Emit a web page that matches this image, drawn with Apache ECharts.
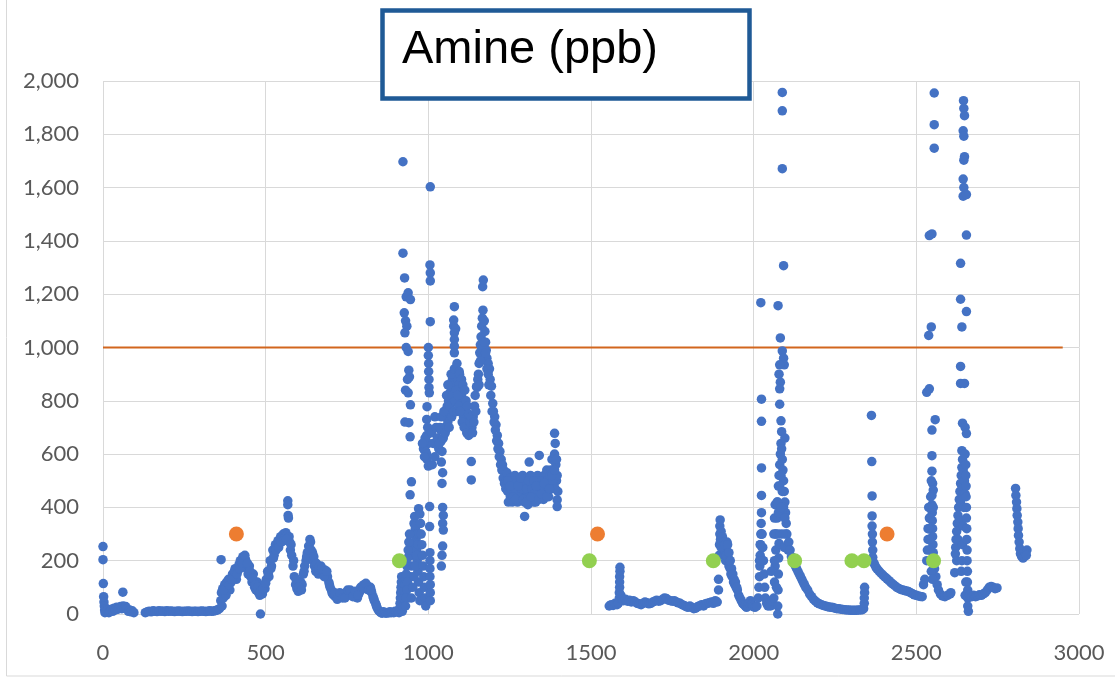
<!DOCTYPE html>
<title>amine</title>
<style>
body {
    margin: 0;
}
#echart {
    height: 678px;
    width: 1115px;
}
</style>
<div id='echart'></div>
<script src='https://cdn.jsdelivr.net/npm/echarts@6.0.0/dist/echarts.min.js'></script>
<script>
let TITLE = 'Amine (ppb)'
let X_TICKS = [0, 500, 1000, 1500, 2000, 2500, 3000]
let Y_TICKS = [0, 200, 400, 600, 800, 1000, 1200, 1400, 1600, 1800, 2000]
// blue readings as [x, ppb]
let amine = [
    [0,253],[0,204],[1,114],[2,65],[3,45],[4,30],[5,15],[6,5],[8,20],[10,8],[14,15],[18,5],[22,12],[26,18],[30,10],[34,22],[38,15],[42,25],[46,18],[50,22],[54,28],[58,20],[61,82],[62,30],[66,22],[70,28],[74,18],[78,10],[82,15],[86,8],[90,12],[95,5],
    [130,5],[136,8],[142,10],[148,8],[154,12],[160,10],[166,9],[172,12],[178,10],[184,11],[190,9],[196,12],[202,10],[208,11],[214,10],[220,9],[226,10],[232,11],[238,10],[244,9],[250,10],[256,10],[262,11],[268,10],[274,9],[280,10],[286,10],[292,9],[298,10],[304,11],[310,10],[316,9],[322,10],[328,12],[334,10],[340,11],[346,13],[352,15],[358,20],
    [362,50],[363,204],[364,80],[366,30],[368,95],[370,60],[374,110],[378,70],[382,100],[386,130],[390,90],[394,120],[398,150],[402,140],[406,170],[410,130],[414,160],[418,185],[422,200],[426,175],[430,215],[434,190],[438,205],[442,170],[446,150],[450,180],[454,140],[458,120],[462,150],[466,100],[470,90],[474,120],[478,80],[482,70],[484,0],[486,90],[490,75],[494,110],[498,95],[502,130],[506,160],[510,140],[514,200],[518,180],[522,240],[526,220],[530,260],[534,250],[538,275],[542,265],[546,290],[550,280],[554,300],[558,285],[562,305],[565,295],[568,425],[568,410],[569,370],[570,360],[572,290],[574,270],[576,240],[580,220],[584,180],[588,140],[592,110],[596,95],[600,85],[604,100],[608,120],[612,110],[616,150],[620,180],[624,200],[628,230],[632,255],[636,280],[638,270],[640,240],[642,210],[644,230],[646,200],[650,180],[654,160],[658,175],[662,150],[666,165],[670,180],[674,160],[678,150],[682,165],[686,150],[690,140],[694,120],[698,100],[702,90],[706,75],[710,70],[714,65],[718,70],[722,60],[726,68],[730,75],[734,70],[738,65],[742,72],[746,80],[750,75],[754,85],[758,80],[762,70],[766,80],[770,75],[774,65],[778,72],[782,60],[786,75],[790,85],[794,95],[798,105],[802,110],[806,100],[810,95],[814,105],[818,90],[822,100],[826,80],[830,65],[834,50],[838,40],[842,25],[846,15],[850,10],[854,5],[858,3],[862,8],[866,5],[870,3],[874,6],[878,4],[882,8],[886,5],[890,7],[894,5],[898,10],[902,8],[906,12],
    [372,90],[380,120],[388,110],[396,130],[404,160],[412,150],[420,170],[428,190],[436,220],[444,190],[452,160],[460,135],[468,110],[476,100],[484,85],[492,95],[500,115],[508,150],[516,170],[524,210],[532,240],[540,250],[548,270],[556,275],[564,280],[578,260],[586,200],[594,130],[602,100],[610,90],[618,160],[626,215],[634,240],[648,215],[656,190],[664,175],[672,170],[680,140],[688,160],[696,110],[704,80],[712,80],[720,55],[728,80],[736,60],[744,60],[752,90],[760,90],[768,65],[776,85],[784,70],[792,100],[800,95],[808,115],[816,90],[824,90],[832,58],[840,32],
    [910,5],[912,20],[913,40],[914,60],[915,80],[916,100],[917,120],[918,140],[920,10],[922,30],[924,60],[926,90],[928,110],[930,130],
    [922,1697],[922,1354],[927,1261],[932,1190],[938,1205],[945,1180],[926,1130],[930,1100],[934,1080],[928,1055],[932,1000],[938,985],[940,915],[942,890],[936,880],[930,840],[938,830],[945,785],[928,720],[940,718],[944,665],[948,496],[944,447],
    [940,60],[944,100],[946,140],[948,180],[950,220],[952,260],[954,300],[956,340],[958,366],[960,320],[962,280],[964,240],[966,200],[968,160],[970,120],[972,80],[974,50],[970,395],[974,375],[960,330],[965,300],
    [932,150],[934,180],[936,210],[938,240],[940,270],[942,300],[936,120],[934,90],[932,60],[930,30],[948,60],[952,100],[956,140],[960,180],[964,220],[968,260],[972,300],[976,340],[978,300],[980,260],[982,220],[984,180],[986,140],[988,100],[990,60],[992,30],
    [1006,1603],[1005,1310],[1006,1280],[1006,1250],[1006,1097],[1000,1000],[1000,970],[1001,940],[1001,910],[1002,880],[1002,850],[1003,830],[996,778],[995,730],[998,700],[995,670],[1000,640],[992,610],[996,580],[1000,555],[1004,403],[1004,328],[1005,230],[1005,200],[1005,170],[1005,140],[1006,110],[1006,80],[1006,50],
    [985,620],[990,660],[995,600],[1010,680],[1015,640],[1020,590],[1012,560],[988,590],[982,640],[1020,740],[1024,700],[1028,660],[1032,620],
    [1038,690],[1040,650],[1042,610],[1040,570],[1044,530],[1042,490],[1044,400],[1046,370],[1044,340],[1046,315],[1044,255],[1042,220],[1040,180],
    [1050,700],[1054,740],[1058,780],[1062,800],[1066,830],[1070,860],[1074,880],[1078,850],[1082,870],[1086,900],[1090,880],[1094,860],[1098,840],[1102,820],[1106,800],[1110,780],[1114,760],[1118,740],[1122,720],[1126,700],[1130,680],[1134,700],[1138,740],[1142,780],
    [1060,720],[1068,760],[1076,800],[1084,820],[1092,790],[1100,760],[1108,740],[1116,700],[1124,670],[1070,900],[1080,920],[1088,940],[1095,910],
    [1034,640],[1036,700],[1040,740],[1046,660],[1048,760],[1052,680],[1056,820],[1060,860],[1064,700],[1066,780],[1072,740],[1074,820],[1078,760],[1082,800],[1086,840],[1088,760],[1090,820],[1094,780],[1096,900],[1098,760],[1102,880],[1104,720],[1106,860],[1110,700],[1112,840],[1116,800],[1118,680],[1120,780],[1124,750],[1128,720],[1132,740],[1136,680],[1140,720],[1144,820],[1146,760],
    [1080,1153],[1078,1103],[1078,1080],[1084,1070],[1080,1055],[1080,1030],[1080,1005],[1080,980],[1132,572],[1132,503],[1148,853],
    [1150,850],[1154,900],[1156,940],[1158,980],[1160,1010],[1162,1040],[1164,1080],[1166,1110],[1168,1140],[1167,1228],[1169,1253],[1172,1100],[1174,1060],[1176,1020],[1178,990],[1180,960],[1184,940],[1188,920],[1190,880],[1194,855],[1198,790],[1200,760],[1204,740],[1208,710],[1212,670],[1216,640],[1220,610],[1224,580],[1228,560],[1232,540],[1236,520],
    [1152,880],[1156,860],[1160,950],[1164,990],[1168,1000],[1172,1020],[1176,980],[1180,920],[1184,900],[1186,860],[1192,820],[1196,760],[1202,720],[1206,690],[1210,650],[1214,620],[1218,590],[1222,560],[1226,540],[1230,510],[1234,490],[1238,470],
    [1240,500],[1244,460],[1248,480],[1252,440],[1256,500],[1260,470],[1264,430],[1268,490],[1272,450],[1276,510],[1280,470],[1284,440],[1288,490],[1292,460],[1296,366],[1296,420],[1300,500],[1304,450],[1308,480],[1310,570],[1312,430],[1316,500],[1320,460],[1324,420],[1328,490],[1332,450],[1336,520],[1340,470],[1341,595],[1344,440],[1348,500],[1352,460],[1356,520],[1360,480],[1364,540],[1368,460],[1372,500],[1376,540],[1380,580],[1384,520],[1388,600],[1388,678],[1390,640],[1392,560],[1394,500],[1396,428],[1396,403],[1398,460],
    [1242,530],[1250,510],[1258,420],[1266,520],[1274,420],[1282,500],[1290,520],[1298,440],[1306,410],[1314,520],[1322,490],[1330,420],[1338,440],[1346,470],[1354,430],[1362,500],[1370,440],[1378,470],[1386,480],
    [1246,420],[1254,470],[1262,500],[1270,460],[1278,440],[1286,470],[1294,500],[1302,470],[1310,440],[1318,470],[1326,450],[1334,490],[1342,500],[1350,480],[1358,450],[1366,470],[1374,520],[1382,500],[1390,470],[1396,520],[1244,500],[1252,480],[1260,440],[1268,430],[1276,480],[1284,510],[1292,430],[1300,420],[1308,500],[1316,440],[1324,500],[1332,480],[1340,430],[1348,450],[1356,490],[1364,440],[1372,470],[1380,520],[1388,540],[1394,580],
    [1556,30],[1562,35],[1568,32],[1574,40],[1580,35],[1584,40],[1587,60],[1587,80],[1588,100],[1588,120],[1588,140],[1589,160],[1589,175],[1592,70],[1596,55],[1600,50],[1606,55],[1612,48],[1618,52],[1624,45],[1630,50],[1636,45],[1642,40],[1648,38],[1654,35],[1660,40],[1666,45],[1672,42],[1678,38],[1684,40],[1690,45],[1696,48],[1702,52],[1708,48],[1714,50],[1720,55],[1726,60],[1732,58],[1738,52],[1744,50],[1750,48],[1756,50],[1762,45],[1768,42],[1774,40],[1780,35],[1786,32],[1792,28],[1798,25],[1804,30],[1810,25],[1816,20],[1822,22],[1828,28],[1834,30],[1840,35],[1846,30],[1852,38],[1858,40],[1864,42],[1870,45],[1876,40],[1882,50],[1888,45],
    [1892,90],[1892,130],[1894,220],[1895,260],[1896,300],[1896,330],[1897,353],[1900,310],[1902,280],[1904,250],[1906,270],[1908,240],[1910,260],[1912,230],[1914,200],[1916,250],[1918,270],[1920,230],[1922,210],[1924,180],[1926,200],[1928,170],[1930,150],[1934,140],[1938,120],[1942,110],[1946,100],[1950,90],[1954,70],[1958,60],[1962,50],[1966,40],[1970,35],[1974,30],[1978,25],[1982,30],[1986,40],[1990,50],[1994,35],[1998,28],[2004,25],
    [1898,280],[1900,250],[1904,290],[1908,270],[1912,260],[1916,220],[1920,260],[1924,230],[1928,200],[1932,170],[1936,150],[1940,130],[1944,120],[1948,100],
    [2010,30],[2014,60],[2016,100],[2018,140],[2019,180],[2020,220],[2021,260],[2022,300],[2023,340],[2024,380],[2026,300],[2028,250],[2030,200],[2032,150],[2034,100],[2036,60],[2040,40],[2044,30],[2048,40],[2052,30],[2056,50],
    [2018,200],[2020,260],[2022,200],[2024,300],[2026,250],[2028,200],
    [2022,1168],[2024,806],[2024,723],[2024,548],[2024,445],
    [2062,60],[2064,120],[2066,180],[2068,240],[2070,300],[2072,360],[2074,420],[2076,480],[2078,520],[2080,560],[2082,600],[2084,640],[2086,620],[2088,580],[2090,540],[2092,500],[2094,460],[2096,420],[2098,380],[2100,340],[2102,300],[2104,260],[2106,240],
    [2074,0],[2074,30],[2075,90],[2076,150],[2077,210],[2078,265],[2054,160],[2062,300],[2064,360],[2066,410],
    [2064,200],[2068,300],[2072,420],[2076,380],[2080,480],[2084,520],[2088,460],[2092,400],[2096,360],[2100,300],[2070,100],[2080,300],[2084,400],[2090,300],[2094,250],
    [2075,1157],[2082,1036],[2088,987],[2092,960],[2094,935],[2080,935],[2078,900],[2082,870],[2080,845],[2080,787],[2084,725],[2086,684],[2096,660],[2088,1957],[2088,1888],[2088,1671],[2092,1307],
    [2108,270],[2112,240],[2116,215],[2120,200],[2124,190],[2128,180],[2132,170],[2136,160],[2140,150],[2144,140],[2148,130],[2152,120],[2156,110],[2160,100],[2166,90],[2172,75],[2178,65],[2184,55],[2190,48],[2196,42],[2202,38],[2208,35],[2214,32],[2220,30],[2226,28],[2232,26],[2238,25],[2244,24],[2250,22],[2256,20],[2262,20],[2268,18],[2274,17],[2280,16],[2286,15],[2292,15],[2298,14],[2304,14],[2310,14],[2316,14],[2322,15],[2328,15],[2334,16],[2338,20],[2340,40],[2340,60],[2341,80],[2341,100],
    [2362,745],[2363,572],[2364,443],[2364,368],[2364,330],[2365,300],[2365,270],[2366,240],[2366,213],[2368,195],[2372,185],[2376,175],[2380,168],[2386,160],[2392,152],[2398,145],[2404,138],[2410,132],[2416,125],[2422,118],[2428,112],[2434,106],[2440,100],[2446,96],[2452,92],[2458,90],[2464,88],[2470,86],[2476,84],[2482,80],[2488,76],[2494,72],[2500,70],[2506,68],[2512,66],[2518,65],[2522,110],[2526,130],
    [2555,1955],[2555,1836],[2555,1748],[2540,1420],[2548,1426],[2538,1045],[2546,1077],[2532,832],[2540,845],[2558,729],[2548,690],
    [2548,594],[2548,536],[2550,490],[2552,465],[2548,445],[2548,410],[2549,380],[2549,350],[2550,320],[2550,290],[2551,260],[2552,230],[2554,200],[2556,170],[2560,140],[2564,110],[2568,90],[2574,75],[2580,68],[2588,65],[2596,70],[2604,75],[2606,80],
    [2532,200],[2534,240],[2536,280],[2538,320],[2540,360],[2542,400],[2544,440],
    [2536,320],[2540,280],[2542,240],[2544,200],[2546,160],[2550,130],[2538,400],[2542,360],[2546,500],[2552,400],
    [2645,1926],[2646,1897],[2648,1870],[2644,1813],[2646,1793],[2648,1716],[2646,1703],[2644,1632],[2646,1600],[2644,1568],[2654,1574],[2654,1422],[2636,1316],[2636,1181],[2654,1135],[2640,1077],[2636,929],[2636,865],[2648,865],[2642,716],[2650,700],[2654,677],
    [2640,613],[2642,580],[2640,550],[2638,520],[2636,490],[2634,460],[2632,430],[2630,400],[2628,370],[2626,340],[2624,310],[2622,280],[2621,250],[2620,226],[2618,155],
    [2624,200],[2628,280],[2632,350],[2636,420],[2640,480],[2644,540],[2648,500],[2650,450],[2646,400],[2644,330],[2642,260],[2640,200],[2638,160],[2652,120],[2650,70],
    [2650,600],[2652,560],[2652,520],[2653,480],[2653,440],[2654,400],[2654,360],[2655,320],[2655,280],[2656,240],[2656,200],[2657,160],[2657,120],[2658,90],[2658,60],[2658,30],[2660,10],
    [2664,70],[2670,65],[2676,70],[2682,65],[2688,68],[2694,72],[2700,70],[2706,75],[2712,80],[2718,90],[2724,100],[2730,103],[2736,100],[2742,95],[2748,98],
    [2805,471],[2806,445],[2808,420],[2809,395],[2810,370],[2812,345],[2813,320],[2814,295],[2816,270],[2818,245],[2820,226],[2824,215],[2828,210],[2832,215],[2836,225],[2840,240],[2838,220],
]
let alarms = [[410, 300], [1520, 300], [2410, 300]]
let events = [[911, 200], [1495, 200], [1876, 200], [2126, 200], [2302, 200], [2339, 200], [2553, 200]]
let limit = [[0, 1000], [2950, 1000]]

let echart = echarts.init(document.querySelector('#echart'), null, {renderer: 'canvas'})
let label_style = {color: '#595959', fontSize: 22, fontFamily: 'Lato'}
let split = {show: true, lineStyle: {color: '#d9d9d9', width: 1}}
let option = {
    animation: false,
    grid: {left: 103, right: 36, top: 81, bottom: 64},
    xAxis: {
        type: 'value', min: X_TICKS[0], max: X_TICKS[X_TICKS.length - 1], interval: 500,
        axisLine: {show: false}, axisTick: {show: false}, splitLine: split,
        axisLabel: {...label_style, margin: 22, formatter: v => String(v)},
    },
    yAxis: {
        type: 'value', min: Y_TICKS[0], max: Y_TICKS[Y_TICKS.length - 1], interval: 200,
        axisLine: {show: false}, axisTick: {show: false}, splitLine: split,
        axisLabel: {...label_style, margin: 24, formatter: v => v.toLocaleString('en-US')},
    },
    series: [
        {type: 'line', data: limit, showSymbol: false, lineStyle: {color: '#D2661E', width: 2}, z: 1},
        {type: 'scatter', data: amine, symbolSize: 9.5, itemStyle: {color: '#4472C4', opacity: 1}, z: 2},
        {type: 'scatter', data: events, symbolSize: 15, itemStyle: {color: '#92D050', opacity: 1}, z: 3},
        {type: 'scatter', data: alarms, symbolSize: 15, itemStyle: {color: '#ED7D31', opacity: 1}, z: 3},
    ],
    graphic: [
        {type: 'rect', shape: {x: 6.5, y: -5, width: 1200, height: 681}, style: {fill: null, stroke: '#d9d9d9', lineWidth: 1}, silent: true, z: 0},
        {type: 'rect', shape: {x: 382.5, y: 10.5, width: 367, height: 88}, style: {fill: '#fff', stroke: '#1F5A96', lineWidth: 4.5}, z: 10},
        {type: 'text', x: 402, y: 50, style: {text: TITLE, fill: '#000', fontSize: 47, fontFamily: 'Liberation Sans', verticalAlign: 'middle'}, z: 11},
    ],
}
echart.setOption(option)
</script>
